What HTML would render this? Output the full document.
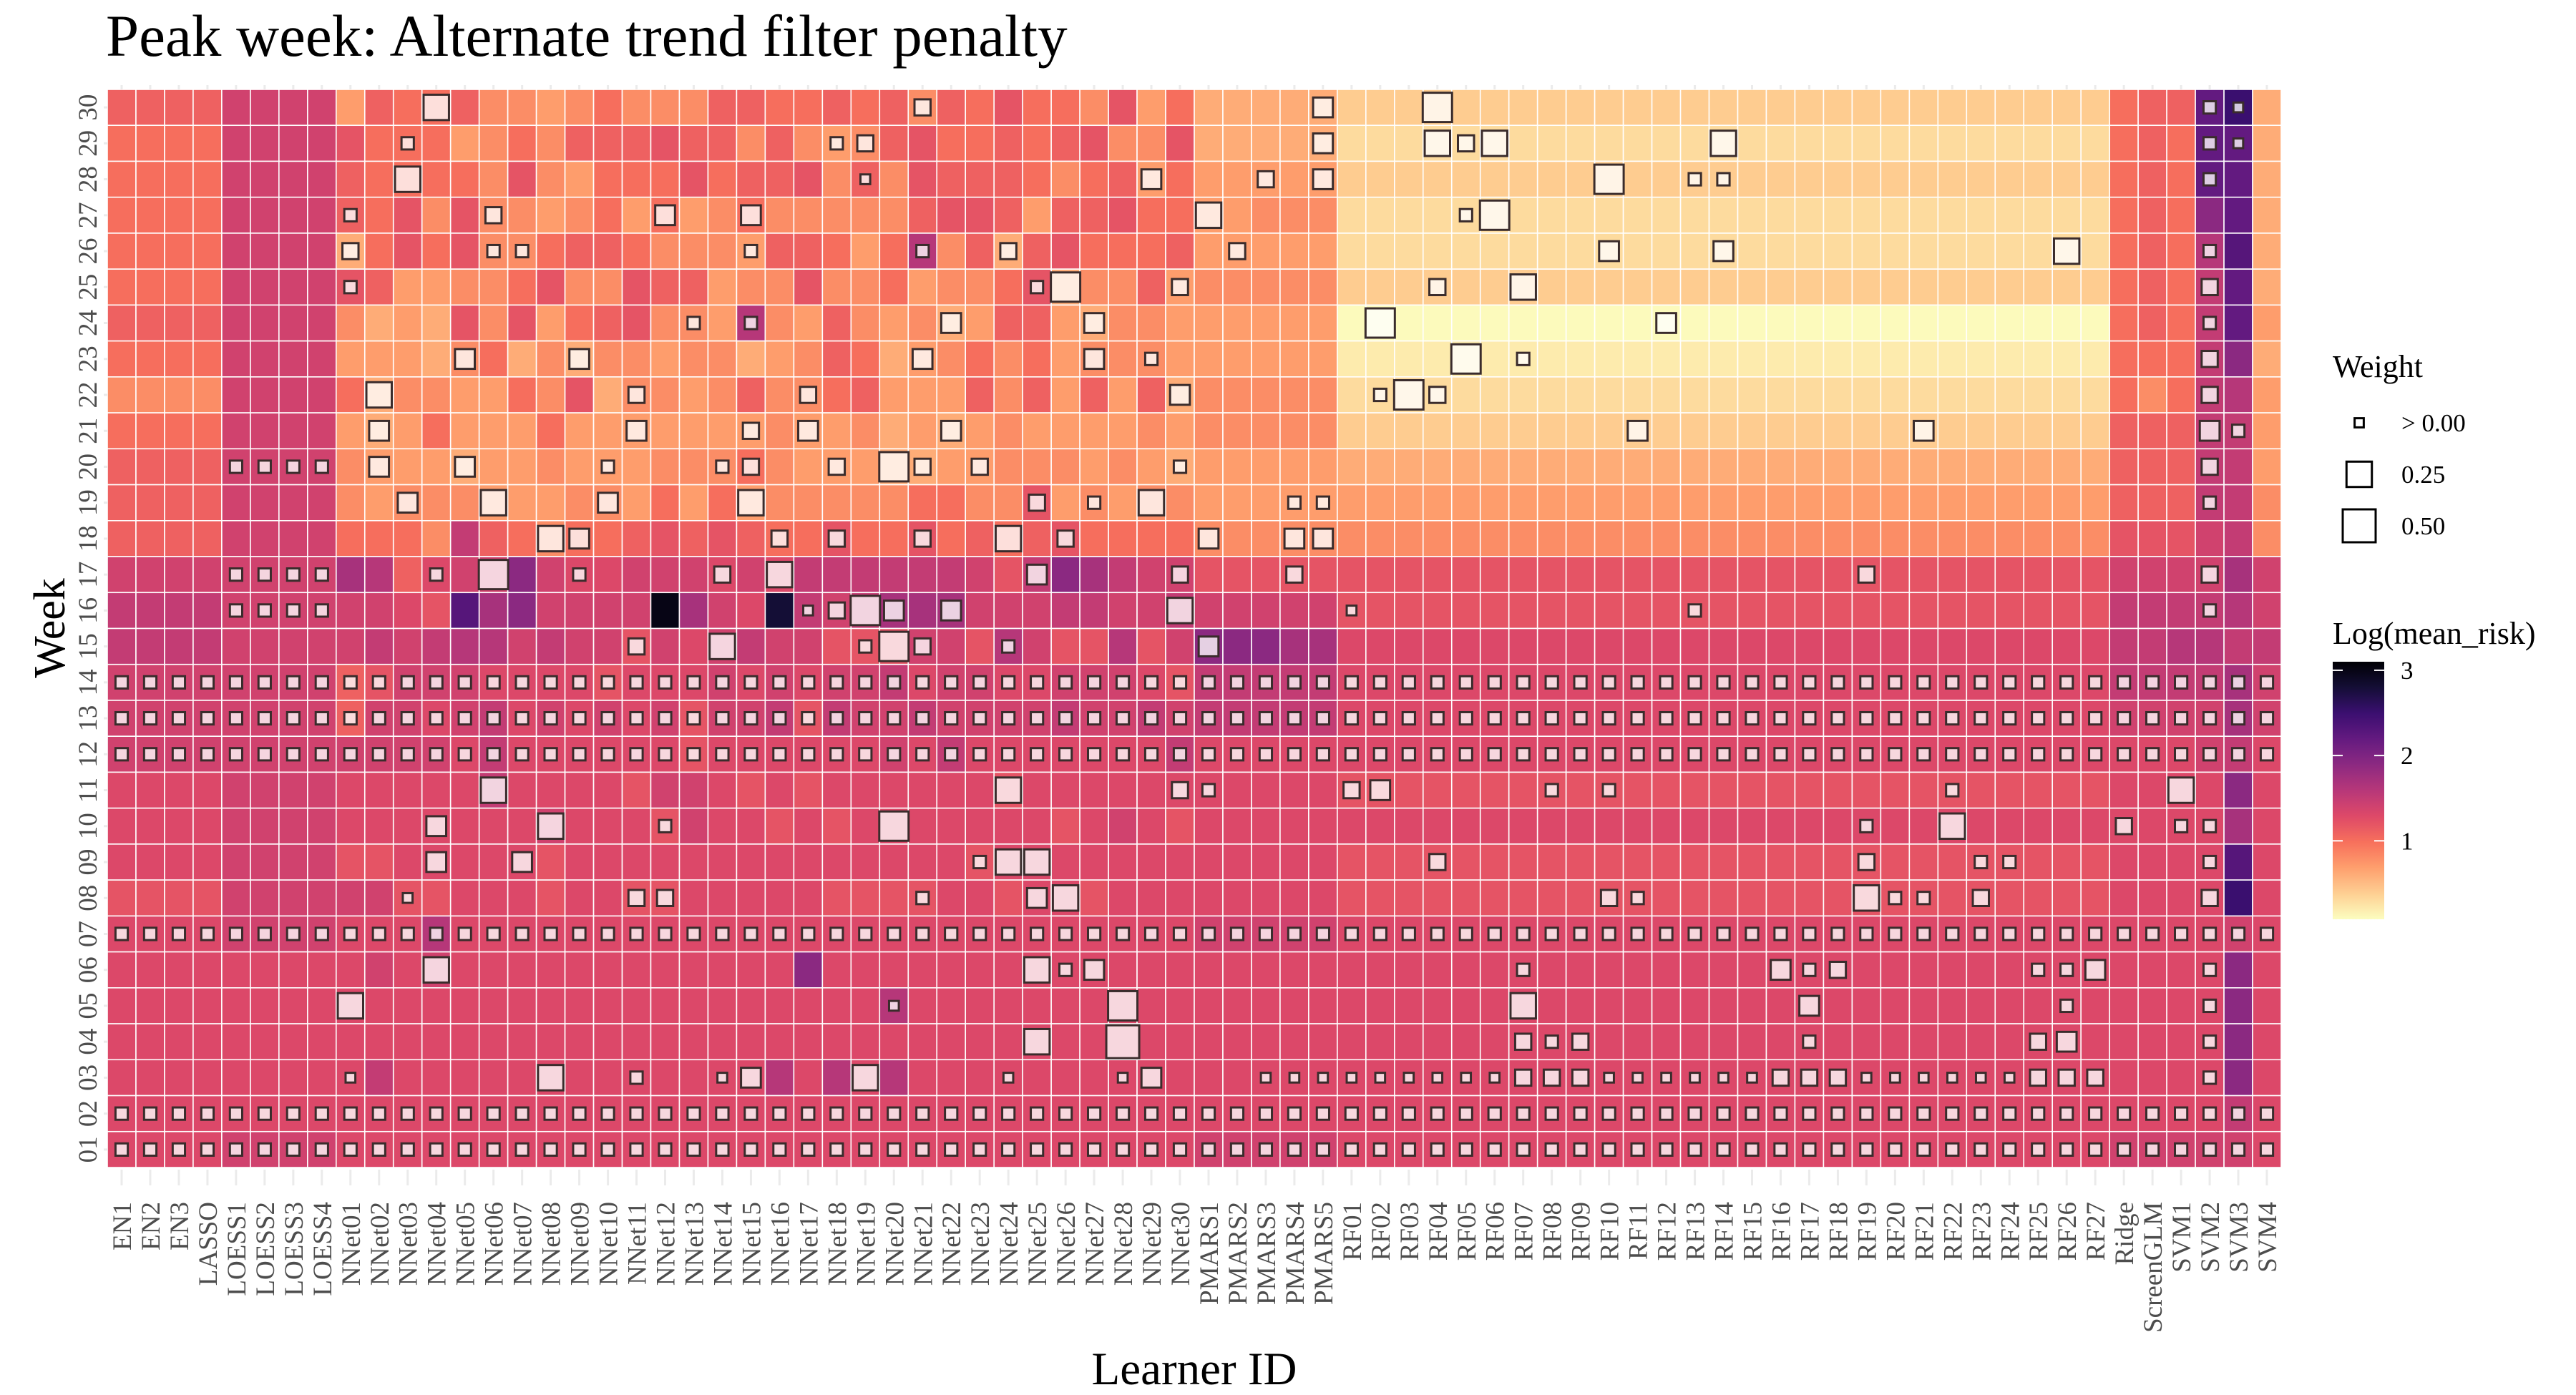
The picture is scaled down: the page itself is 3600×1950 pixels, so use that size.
<!DOCTYPE html>
<html><head><meta charset="utf-8"><title>Peak week heatmap</title>
<style>
html,body{margin:0;padding:0;background:#fff;}
svg{display:block;font-family:"Liberation Serif","DejaVu Serif",serif;}
</style></head>
<body>
<svg id="chart" xmlns="http://www.w3.org/2000/svg" width="3600" height="1950" viewBox="0 0 3600 1950">
<rect x="0" y="0" width="3600" height="1950" fill="#fff"/>
<text x="148" y="78" font-size="83" fill="#000">Peak week: Alternate trend filter penalty</text>
<g id="plot"></g>
<g id="xlabels"></g>
<g id="ylabels"></g>
<text x="0" y="0" transform="translate(90,878) rotate(-90)" text-anchor="middle" font-size="62" fill="#000">Week</text>
<text x="1669" y="1935" text-anchor="middle" font-size="65" fill="#000">Learner ID</text>
<g id="legend">
  <text x="3260" y="527" font-size="44" fill="#000">Weight</text>
  <text x="3260" y="900" font-size="44" fill="#000">Log(mean_risk)</text>
</g>
<defs><linearGradient id="cbar" x1="0" y1="0" x2="0" y2="1"></linearGradient></defs>
</svg>
<script>
const learners = ["EN1","EN2","EN3","LASSO","LOESS1","LOESS2","LOESS3","LOESS4",
"NNet01","NNet02","NNet03","NNet04","NNet05","NNet06","NNet07","NNet08","NNet09","NNet10",
"NNet11","NNet12","NNet13","NNet14","NNet15","NNet16","NNet17","NNet18","NNet19","NNet20",
"NNet21","NNet22","NNet23","NNet24","NNet25","NNet26","NNet27","NNet28","NNet29","NNet30",
"PMARS1","PMARS2","PMARS3","PMARS4","PMARS5",
"RF01","RF02","RF03","RF04","RF05","RF06","RF07","RF08","RF09","RF10","RF11","RF12","RF13","RF14","RF15","RF16","RF17","RF18","RF19","RF20","RF21","RF22","RF23","RF24","RF25","RF26","RF27",
"Ridge","ScreenGLM","SVM1","SVM2","SVM3","SVM4"];
const weekLabels = ["01","02","03","04","05","06","07","08","09","10","11","12","13","14","15","16","17","18","19","20","21","22","23","24","25","26","27","28","29","30"];
// log(mean_risk) per cell, each char = value in tenths (base 36). Rows: week 30 down to week 01.
const riskRows = [
"bbbb eeee 7baab8878a 888bbaabab 8bacaa8c7a 66666 4444444444 4444444444 4444444 ab bmp6",
"aaaa eeee caaa78a8bb bcbb8b878b caababc88c 66666 3333333333 3333333333 3333333 ab amm6",
"aaaa eeee baaaa8c87a aacabbc8b8 cbbba8ab7a 77777 4444444444 4444444444 4444444 ab amm6",
"aaaa eeee bac8c8878a 7a78a88888 bccb7bbcaa 77888 3333333333 3333333333 3333333 ab ajm6",
"aaaa eeee 6acac88abb a8887bba7a g8b6bcaaab 77777 3333333333 3333333333 3333333 ab agn6",
"aaaa eeee cb7788ac88 cbb788c88a 788ac688b7 88888 4444444444 4444444444 4444444 ab afm6",
"bbbb eeee 8676c8c7ab c887g87b87 867bb76887 77777 1111111111 1111111111 1111111 ab afm7",
"aaaa eeee 77768a6868 8788678ba6 78a8a78887 77777 2222222222 2222222222 2222222 aa afj6",
"8888 eeee a68877a8c6 8878b88ab7 77b8b7b7b6 88888 3333333333 3333333333 3333333 a8 afg7",
"aaaa eeee 767a777a77 7777787786 7678777787 88888 4444444444 4444444444 4444444 bb bff7",
"bbbb eeee 8777677877 7888a87776 6778887876 77777 6666666666 6666666666 6666666 bb bff7",
"bbbb eeee 8788877788 7a7a788888 aa88c78788 77777 7777777777 7777777777 7777777 bb bff8",
"bbbb eeee aaa8fba8aa bcbcbaacaa cababcaaaa 88888 8888888888 8888888888 8888888 cc cef8",
"eeee eeee hgbdeejedd eeededffff ffecfjhfee ccccc cccccccccc cccccccccc ccccccc ee eehe",
"ffff eeee eedcnhjeee euhedsfefh hheeeffeef eeeee cccccccccc cccccccccc ccccccc ff ffge",
"ffff eeee efefggefee cedefeeccc eecgeccgce jjjhh dddddddddd dddddddddd ddddddd ff ggff",
"eeee eeee bceeeddddc dddededeef deeddeeedc fffff dddddddddd dddddddddd ddddddd ff ffhe",
"eeee eeee beedefdede deceefcfee feeeefeefe fffff dddddddddd dddddddddd ddddddd ee eehe",
"eeee eeee eeeedfdddd ddcdddddde dfdddddddf ddddd dddddddddd dddddddddd ddddddd dd defd",
"dddd eeee dddddfdddd ceedcdcddd dddcdddddd ddddd cccccccccc cccccccccc ccccccc dd ddjd",
"dddd eeee dddddddedd dceddcdcdd dddddcdedc ddddd dddddddddd dddddddddd ddddddd dd ddhd",
"dddd eeee ccdddddcdd dddddddddd ddcddddddd ddddd cccccccccc cccccccccc ccccccc dd ddnd",
"cccc eeee eeccdddcdd ccdddddccc cddcddcddd ddddd cccccccccc cccccccccc ccccccc dd ddpd",
"dddd eeee dddgdddddd dddddddddd dddddddddd eeeee dddddddddd dddddddddd ddddddd dd dded",
"dddd dddd dededddddd ddddddjddd dddddddddd ddddd dddddddddd dddddddddd ddddddd dd ddjd",
"dddd dddd dddddddddd dddddddddg dddddddddd ddddd dddddddddd dddddddddd ddddddd dd ddjd",
"dddd dddd dddddddddd dddddddddd dddddddddd ddddd dddddddddd dddddddddd ddddddd dd ddjd",
"dddd dddd dfdddddddd dddddgdgdg dddddddddd ddddd dddddddddd dddddddddd ddddddd dd ddjd",
"dddd dddd dddddddddd dddddddddd dddddddddd ddddd dddddddddd dddddddddd ddddddd dd ddfd",
"dddd eeee dddddddddd dddddddddd dddddddddd eeeee dddddddddd dddddddddd ddddddd ee eeed"
];
// ensemble weight code per cell ('.' = none). Rows: week 30 down to week 01.
const weightCodes = {"1":0.005,"2":0.02,"3":0.06,"4":0.12,"5":0.25,"6":0.37,"7":0.5};
const allSmall = "2222 2222 2222222222 2222222222 2222222222 22222 2222222222 2222222222 2222222 22 2222";
const weightRows = [
".... .... ...5...... .......... 3......... ....4 ...6...... .......... ....... .. .21.",
".... .... ..2....... .......23. .......... ....4 ...535.... ...5...... ....... .. .21.",
".... .... ..5....... ........1. ........4. ..3.4 .........6 ..22...... ....... .. .2..",
".... .... 2....3.... .4..4..... .......... 5.... ....26.... .......... ....... .. ....",
".... .... 3....22... ....2..... 2..3...... .3... .........4 ...4...... .....5. .. .2..",
".... .... 2......... .......... ....26...3 ..... ...3..5... .......... ....... .. .3..",
".... .... .......... ..2.2..... .4....4... ..... .6........ .4........ ....... .. .2..",
".... .... ....4...4. .......... 4.....4.2. ..... ....6.2... .......... ....... .. .3..",
".... .... .5........ 3.....3... .........4 ..... .263...... .......... ....... .. .3..",
".... .... .4........ 4...3.4... .4........ ..... .......... 4......... 4...... .. .42.",
".... 2222 .4..4....2 ...23..3.6 3.3......2 ..... .......... .......... ....... .. .3..",
".... .... ..4..5...4 ....5..... ....3.2.5. ...22 .......... .......... ....... .. .2..",
".... .... .......54. .....3.3.. 3..5.3.... 4..44 .......... .......... ....... .. ....",
".... 2222 ...2.6..2. ...3.5.... ....4....3 ...3. .......... ........3. ....... .. .3..",
".... 2222 .......... ......1364 .4.......5 ..... 1......... ..2....... ....... .. .2..",
".... .... .......... 3..5....26 3..2...... 4.... .......... .......... ....... .. ....",
allSmall,
allSmall,
allSmall,
".... .... .....5.... .......... ...5.....3 2.... 34.....2.2 .......... .2..... .. 5...",
".... .... ...4...5.. .2.......6 .......... ..... .......... ........2. .5..... 3. 22..",
".... .... ...4..4... .......... ..255..... ..... ...3...... ........3. ..22... .. .2..",
".... .... ..1....... 33........ 2...45.... ..... .........3 2.......52 2.3.... .. .3..",
allSmall,
".... .... ...5...... .......... ....524... ..... ......2... .....423.. ....224 .. .2..",
".... .... 5......... .........1 .......6.. ..... ......5... ......4... .....2. .. .2..",
".... .... .......... .......... ....5..7.. ..... ......323. ......2... ....34. .. .2..",
".... .... 1......5.. 2..14...5. ...1...14. ..111 1111113331 1111133311 1111333 .. .2..",
allSmall,
allSmall
];
const colorTicks = [1, 2, 3];
const sizeLegendValues = [0.003, 0.25, 0.5];
const sizeLegendLabels = ["> 0.00", "0.25", "0.50"];

const NS = "http://www.w3.org/2000/svg";
const X0 = 150, X1 = 3188, Y0 = 125, Y1 = 1632;
const VMIN = 0.08, VMAX = 3.1;
const cellW = (X1 - X0) / learners.length;
const cellH = (Y1 - Y0) / weekLabels.length;
function xPos(i){ return X0 + i * cellW; }
function yPos(weekIdx){ return Y0 + (weekLabels.length - 1 - weekIdx) * cellH; }
const magmaStops = ["#000004","#140e36","#3b0f70","#641a80","#8c2981","#b73779","#de4968","#f7705c","#fe9f6d","#fecf92","#fcfdbf"];
function hex2rgb(h){ return [parseInt(h.substr(1,2),16),parseInt(h.substr(3,2),16),parseInt(h.substr(5,2),16)]; }
function magma(t){
  t = Math.max(0, Math.min(1, t));
  const s = t * 10, i = Math.min(9, Math.floor(s)), f = s - i;
  const a = hex2rgb(magmaStops[i]), b = hex2rgb(magmaStops[i+1]);
  return [0,1,2].map(k => Math.round(a[k] + (b[k]-a[k]) * f));
}
function colorScale(v){ return magma((VMAX - v) / (VMAX - VMIN)); }
function rgbStr(c){ return "rgb(" + c.join(",") + ")"; }
function lighten(c, a){ return c.map(x => Math.round(x + (255 - x) * a)); }
function sizeScale(w){ return 10 + 36 * Math.sqrt(w / 0.5); }
function clean(s){ s = s.replace(/\s+/g, ""); while (s.length < learners.length) s += s[s.length-1]; return s.slice(0, learners.length); }

const plot = document.getElementById("plot");
riskRows.forEach((row, r) => {
  const weekIdx = weekLabels.length - 1 - r;
  const codes = clean(row);
  for (let i = 0; i < learners.length; i++) {
    const v = parseInt(codes[i], 36) / 10;
    const rect = document.createElementNS(NS, "rect");
    rect.setAttribute("x", xPos(i));
    rect.setAttribute("y", yPos(weekIdx));
    rect.setAttribute("width", cellW);
    rect.setAttribute("height", cellH);
    rect.setAttribute("fill", rgbStr(colorScale(v)));
    rect.setAttribute("stroke", "#ffffff");
    rect.setAttribute("stroke-width", "1.6");
    
    
    plot.appendChild(rect);
  }
});
weightRows.forEach((row, r) => {
  const weekIdx = weekLabels.length - 1 - r;
  const codes = clean(row);
  const risk = clean(riskRows[r]);
  for (let i = 0; i < learners.length; i++) {
    const ch = codes[i];
    if (!(ch in weightCodes)) continue;
    const w = weightCodes[ch];
    const s = sizeScale(w);
    const v = parseInt(risk[i], 36) / 10;
    const cx = xPos(i) + cellW / 2, cy = yPos(weekIdx) + cellH / 2;
    const sq = document.createElementNS(NS, "rect");
    sq.setAttribute("x", cx - s / 2);
    sq.setAttribute("y", cy - s / 2);
    sq.setAttribute("width", s);
    sq.setAttribute("height", s);
    sq.setAttribute("fill", rgbStr(lighten(colorScale(v), 0.78)));
    sq.setAttribute("stroke", "#3a2c2c");
    sq.setAttribute("stroke-width", "3");
    
    
    plot.appendChild(sq);
  }
});
const xl = document.getElementById("xlabels");
learners.forEach((name, i) => {
  const cx = xPos(i) + cellW / 2;
  const tk = document.createElementNS(NS, "line");
  tk.setAttribute("x1", cx); tk.setAttribute("x2", cx);
  tk.setAttribute("y1", Y1 + 3); tk.setAttribute("y2", Y1 + 25);
  tk.setAttribute("stroke", "#ebebeb"); tk.setAttribute("stroke-width", "3");
  
  
  xl.appendChild(tk);
  const tt = document.createElementNS(NS, "line");
  tt.setAttribute("x1", cx); tt.setAttribute("x2", cx);
  tt.setAttribute("y1", Y0 - 6); tt.setAttribute("y2", Y0);
  tt.setAttribute("stroke", "#ebebeb"); tt.setAttribute("stroke-width", "3");
  
  
  xl.appendChild(tt);
  const t = document.createElementNS(NS, "text");
  t.setAttribute("transform", "translate(" + (cx + 13) + "," + 1680 + ") rotate(-90)");
  t.setAttribute("text-anchor", "end");
  t.setAttribute("font-size", "37");
  t.setAttribute("fill", "#4d4d4d");
  t.textContent = name;
  
  
  xl.appendChild(t);
});
const yl = document.getElementById("ylabels");
weekLabels.forEach((lab, k) => {
  const cy = yPos(k) + cellH / 2;
  const tk = document.createElementNS(NS, "line");
  tk.setAttribute("x1", X0 - 5); tk.setAttribute("x2", X0);
  tk.setAttribute("y1", cy); tk.setAttribute("y2", cy);
  tk.setAttribute("stroke", "#ebebeb"); tk.setAttribute("stroke-width", "3");
  
  
  yl.appendChild(tk);
  const t = document.createElementNS(NS, "text");
  t.setAttribute("transform", "translate(135," + cy + ") rotate(-90)");
  t.setAttribute("text-anchor", "middle");
  t.setAttribute("font-size", "37");
  t.setAttribute("fill", "#4d4d4d");
  t.textContent = lab;
  
  
  yl.appendChild(t);
});
const legend = document.getElementById("legend");
const keyY = [591, 663, 735];
sizeLegendValues.forEach((w, k) => {
  const s = sizeScale(w);
  const r = document.createElementNS(NS, "rect");
  r.setAttribute("x", 3297 - s / 2); r.setAttribute("y", keyY[k] - s / 2);
  r.setAttribute("width", s); r.setAttribute("height", s);
  r.setAttribute("fill", "#fff"); r.setAttribute("stroke", "#000"); r.setAttribute("stroke-width", "3");
  
  
  legend.appendChild(r);
  const t = document.createElementNS(NS, "text");
  t.setAttribute("x", 3356); t.setAttribute("y", keyY[k] + 12);
  t.setAttribute("font-size", "35"); t.setAttribute("fill", "#000");
  t.textContent = sizeLegendLabels[k];
  
  
  legend.appendChild(t);
});
const CB_TOP = 925, CB_BOT = 1285, CB_X = 3260, CB_W = 72;
const grad = document.getElementById("cbar");
for (let k = 0; k <= 20; k++) {
  const v = VMAX - (VMAX - VMIN) * k / 20;
  const st = document.createElementNS(NS, "stop");
  st.setAttribute("offset", (k / 20).toFixed(3));
  st.setAttribute("stop-color", rgbStr(colorScale(v)));
  grad.appendChild(st);
}
const bar = document.createElementNS(NS, "rect");
bar.setAttribute("x", CB_X); bar.setAttribute("y", CB_TOP);
bar.setAttribute("width", CB_W); bar.setAttribute("height", CB_BOT - CB_TOP);
bar.setAttribute("fill", "url(#cbar)");


legend.appendChild(bar);
function cbY(v){ return CB_TOP + (VMAX - v) / (VMAX - VMIN) * (CB_BOT - CB_TOP); }
colorTicks.forEach(v => {
  const y = cbY(v);
  [[CB_X, CB_X + 14], [CB_X + CB_W - 14, CB_X + CB_W]].forEach(p => {
    const l = document.createElementNS(NS, "line");
    l.setAttribute("x1", p[0]); l.setAttribute("x2", p[1]);
    l.setAttribute("y1", y); l.setAttribute("y2", y);
    l.setAttribute("stroke", "#fff"); l.setAttribute("stroke-width", "2");
    
    
    legend.appendChild(l);
  });
  const t = document.createElementNS(NS, "text");
  t.setAttribute("x", 3355); t.setAttribute("y", y + 12);
  t.setAttribute("font-size", "35"); t.setAttribute("fill", "#000");
  t.textContent = String(v);
  
  
  legend.appendChild(t);
});
</script>
</body></html>
